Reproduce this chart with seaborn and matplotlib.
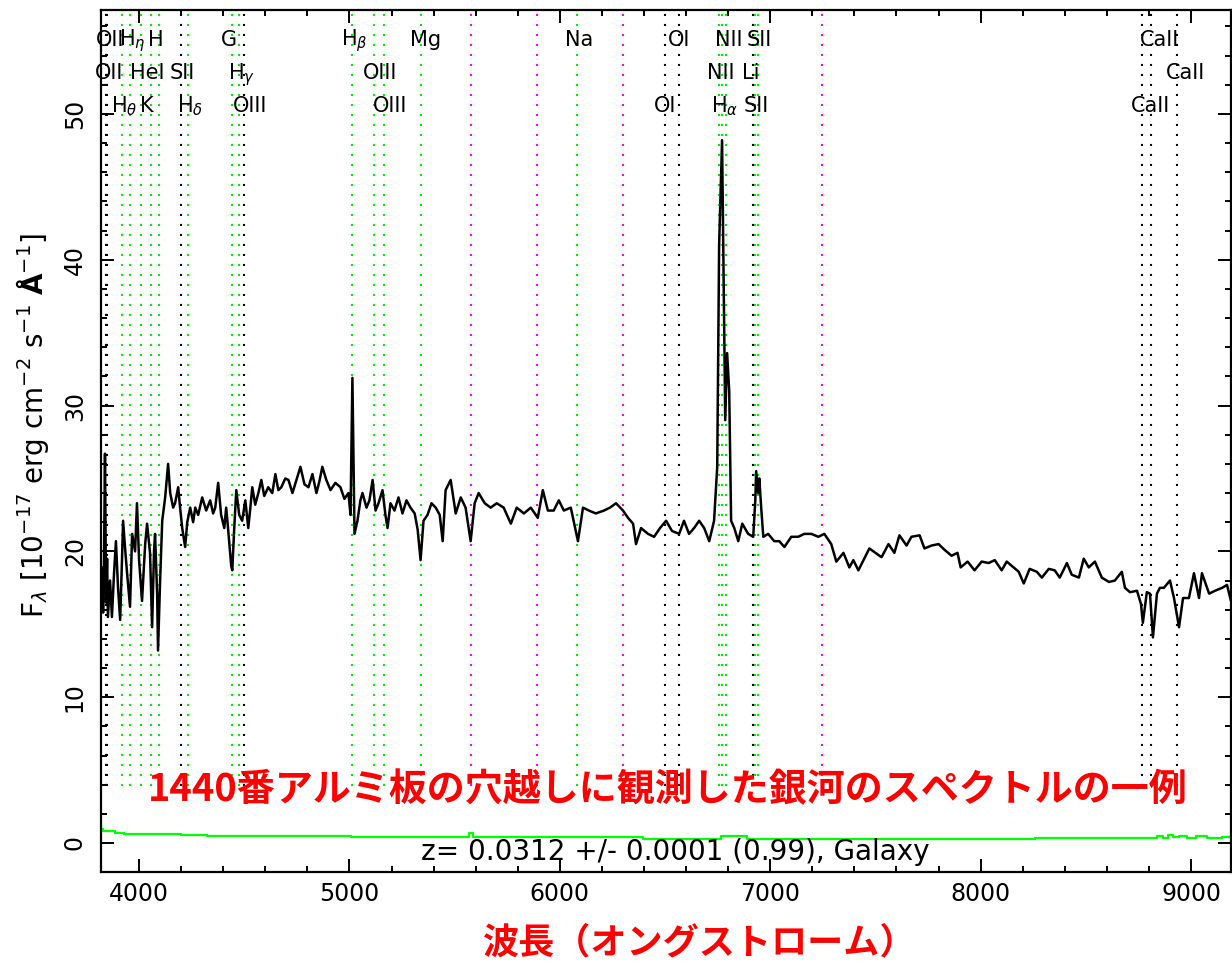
import numpy as np
import pandas as pd
import matplotlib
matplotlib.use("Agg")
import matplotlib.pyplot as plt
from matplotlib.ticker import MultipleLocator, FixedLocator
import seaborn as sns

# ---------------- data ----------------
wavelength = [3818, 3824, 3829, 3833, 3838, 3843, 3848, 3852, 3862, 3871, 3881, 3890, 3900, 3910,
              3919, 3924, 3933, 3943, 3957, 3967, 3981, 3990, 4000, 4014, 4029, 4038, 4052, 4062,
              4071, 4076, 4086, 4090, 4100, 4110, 4124, 4138, 4148, 4162, 4171, 4186, 4195, 4205,
              4219, 4229, 4243, 4257, 4267, 4281, 4300, 4319, 4338, 4352, 4362, 4376, 4390, 4405,
              4414, 4424, 4438, 4443, 4452, 4462, 4476, 4490, 4505, 4519, 4529, 4538, 4552, 4567,
              4581, 4595, 4614, 4633, 4648, 4662, 4676, 4695, 4710, 4729, 4748, 4767, 4786, 4805,
              4824, 4843, 4857, 4871, 4890, 4910, 4933, 4957, 4976, 4995, 5005, 5014, 5024, 5038,
              5052, 5062, 5081, 5095, 5110, 5124, 5138, 5157, 5171, 5181, 5195, 5214, 5233, 5252,
              5271, 5290, 5310, 5324, 5338, 5352, 5371, 5390, 5410, 5429, 5443, 5457, 5481, 5505,
              5529, 5552, 5576, 5595, 5614, 5643, 5671, 5700, 5733, 5767, 5795, 5829, 5862, 5895,
              5919, 5943, 5971, 5995, 6019, 6052, 6086, 6110, 6138, 6171, 6210, 6238, 6267, 6300,
              6324, 6348, 6362, 6386, 6419, 6448, 6476, 6505, 6533, 6567, 6590, 6614, 6638, 6662,
              6686, 6710, 6733, 6748, 6757, 6771, 6786, 6795, 6805, 6814, 6829, 6848, 6867, 6895,
              6919, 6929, 6933, 6943, 6948, 6957, 6967, 6990, 7019, 7043, 7067, 7100, 7133, 7162,
              7195, 7229, 7257, 7290, 7314, 7348, 7376, 7395, 7419, 7443, 7471, 7500, 7529, 7562,
              7590, 7614, 7648, 7671, 7710, 7733, 7767, 7800, 7829, 7862, 7890, 7905, 7938, 7971,
              8005, 8038, 8067, 8100, 8124, 8157, 8181, 8205, 8233, 8267, 8291, 8324, 8352, 8376,
              8410, 8433, 8467, 8490, 8514, 8543, 8576, 8610, 8638, 8671, 8686, 8710, 8743, 8762,
              8771, 8790, 8805, 8819, 8838, 8852, 8871, 8900, 8919, 8943, 8962, 8990, 9014, 9038,
              9052, 9086, 9114, 9148, 9171, 9190]
flux = [17.5, 18.9, 15.8, 19.0, 26.7, 16.5, 19.5, 15.5, 18.0, 15.5, 18.5, 20.7, 17.5, 15.3,
        19.5, 22.1, 20.3, 18.5, 16.2, 21.2, 20.0, 23.3, 19.4, 16.6, 20.5, 21.9, 19.9, 14.8,
        20.0, 21.2, 17.0, 13.2, 18.0, 22.1, 23.7, 26.0, 24.0, 23.0, 23.3, 24.4, 23.0, 21.6,
        20.3, 22.0, 23.0, 22.0, 23.0, 22.5, 23.7, 22.8, 23.5, 22.6, 23.0, 24.7, 22.5, 21.6,
        23.0, 21.4, 19.0, 18.7, 21.5, 24.2, 22.5, 22.1, 23.5, 21.6, 23.0, 24.4, 23.2, 24.0,
        24.9, 23.8, 24.4, 24.0, 25.3, 24.2, 24.4, 25.0, 24.9, 24.0, 24.9, 25.8, 24.6, 24.4,
        25.3, 24.0, 24.8, 25.8, 24.9, 24.2, 24.7, 24.4, 23.6, 24.0, 22.5, 31.9, 21.2, 22.1,
        23.5, 24.0, 23.0, 23.5, 24.9, 22.8, 23.3, 24.2, 22.5, 21.6, 23.3, 22.8, 23.7, 22.6,
        23.5, 23.0, 22.6, 21.5, 19.4, 22.1, 22.5, 23.3, 23.0, 22.5, 20.7, 24.2, 24.9, 22.6,
        23.7, 23.0, 20.7, 23.3, 24.0, 23.3, 23.0, 23.3, 23.0, 21.9, 23.0, 22.6, 23.0, 22.3,
        24.2, 22.8, 22.8, 23.5, 22.8, 23.0, 20.7, 23.0, 22.8, 22.6, 22.8, 23.0, 23.3, 22.8,
        22.3, 21.9, 20.5, 21.6, 21.2, 21.0, 21.6, 22.1, 21.4, 21.2, 22.1, 21.2, 21.6, 22.1,
        21.6, 20.7, 22.1, 25.8, 41.0, 48.2, 29.0, 33.6, 31.0, 22.1, 21.6, 20.7, 21.9, 21.2,
        21.0, 23.5, 25.5, 24.0, 25.0, 23.0, 21.0, 21.2, 20.7, 20.7, 20.3, 21.0, 21.0, 21.2,
        21.2, 21.0, 21.2, 20.5, 19.3, 19.9, 18.9, 19.4, 18.7, 19.4, 20.2, 19.9, 19.6, 20.5,
        19.9, 21.1, 20.4, 21.0, 21.1, 20.2, 20.4, 20.5, 20.1, 19.7, 19.9, 18.9, 19.3, 18.7,
        19.3, 19.2, 19.4, 18.7, 19.3, 18.9, 18.6, 17.8, 18.8, 18.6, 18.2, 18.8, 18.7, 18.2,
        19.2, 18.4, 18.2, 19.5, 18.9, 19.3, 18.2, 17.9, 18.0, 18.6, 17.5, 17.2, 17.3, 16.4,
        15.1, 17.2, 17.1, 14.1, 17.1, 17.5, 17.5, 18.0, 16.8, 14.8, 16.8, 16.8, 18.5, 16.8,
        18.5, 17.1, 17.3, 17.5, 17.7, 16.6]

err_wavelength = [3818, 3840, 3870, 3900, 3960, 4040, 4150, 4250, 4400, 4600, 4800, 5000, 5010,
                  5300, 5560, 5577, 5595, 5800, 6000, 6290, 6500, 6760, 6775, 7000, 7300, 7600,
                  7900, 8200, 8320, 8500, 8700, 8830, 8850, 8880, 8900, 8930, 8960, 9000, 9050,
                  9100, 9190]
err_flux = [0.95, 0.85, 0.8, 0.7, 0.65, 0.6, 0.6, 0.55, 0.5, 0.5, 0.48, 0.48, 0.4,
            0.4, 0.4, 0.7, 0.4, 0.4, 0.4, 0.38, 0.3, 0.3, 0.45, 0.28, 0.27, 0.27,
            0.27, 0.27, 0.33, 0.33, 0.34, 0.36, 0.5, 0.35, 0.55, 0.4, 0.5, 0.35, 0.45,
            0.35, 0.38]

redshift = 0.0312
line_names = ["OII", "OII", "H$_\\theta$", "H$_\\eta$", "HeI", "K", "H", "SII", "H$_\\delta$",
              "G", "H$_\\gamma$", "OIII", "H$_\\beta$", "OIII", "OIII", "Mg", "Na", "OI", "OI",
              "NII", "H$_\\alpha$", "NII", "Li", "SII", "SII", "CaII", "CaII", "CaII"]
line_rest = [3727.09, 3729.88, 3798.98, 3836.47, 3889.0, 3934.78, 3969.59, 4072.3, 4102.89,
             4305.61, 4341.68, 4364.44, 4862.68, 4960.30, 5008.24, 5176.7, 5895.6, 6302.05,
             6365.54, 6549.86, 6564.61, 6585.27, 6707.89, 6718.29, 6732.67, 8500.36, 8544.44,
             8664.52]
line_kind = ["k", "k", "g", "g", "g", "g", "g", "k", "g",
             "g", "g", "k", "g", "g", "g", "g", "g", "k",
             "k", "g", "g", "g", "k", "g", "g", "k", "k", "k"]
line_row = [2, 1, 3, 1, 2, 3, 1, 2, 3,
            1, 2, 3, 1, 2, 3, 1, 1, 3,
            1, 2, 3, 1, 2, 3, 1, 3, 1, 2]
sky_lines = [5577.3, 5893.0, 6300.3, 7246.0]

xticks = [4000, 5000, 6000, 7000, 8000, 9000]
yticks = [0, 10, 20, 30, 40, 50]
z_text = "z= 0.0312 +/- 0.0001 (0.99), Galaxy"
caption = "1440番アルミ板の穴越しに観測した銀河のスペクトルの一例"
xlabel_text = "波長（オングストローム）"
ylabel_text = r"F$_\lambda$ [10$^{-17}$ erg cm$^{-2}$ s$^{-1}$ $\mathbf{\AA}^{-1}$]"

# ---------------- style ----------------
sns.set_theme(style="ticks")
plt.rcParams["font.family"] = ["DejaVu Sans", "Noto Sans CJK JP"]
plt.rcParams["mathtext.fontset"] = "dejavusans"
for key in ["text.color", "axes.labelcolor", "xtick.color", "ytick.color",
            "xtick.labelcolor", "ytick.labelcolor"]:
    plt.rcParams[key] = "black"

fig = plt.figure(figsize=(12.32, 9.63), dpi=100)
ax = fig.add_axes([100.7 / 1232, 91 / 963, (1231 - 100.7) / 1232, (872 - 10) / 963])

ax.set_xlim(3817.6, 9190)
ax.set_ylim(-1.99, 57.13)

spec = pd.DataFrame({"wavelength": wavelength, "flux": flux})
err = pd.DataFrame({"wavelength": err_wavelength, "flux": err_flux})

# marker lines
obs = np.array(line_rest) * (1 + redshift)
dot = (0, (1, 3.8))
for lam, kind in zip(obs, line_kind):
    ax.vlines(lam, 3.9, 57.13, colors="#00ee00" if kind == "g" else "black",
              linestyles=dot, linewidth=1.5, zorder=1)
for lam in sky_lines:
    ax.vlines(lam, 3.9, 57.13, colors="#ff00ff", linestyles=dot, linewidth=1.5, zorder=1)

sns.lineplot(data=err, x="wavelength", y="flux", ax=ax, color="#00ff00", linewidth=1.6,
             drawstyle="steps-mid", estimator=None, sort=False, zorder=2)
sns.lineplot(data=spec, x="wavelength", y="flux", ax=ax, color="black", linewidth=1.8,
             estimator=None, sort=False, zorder=3)

# line labels
row_y = {1: 0.9588, 2: 0.920, 3: 0.8817}
for name, lam, row in zip(line_names, obs, line_row):
    ax.annotate(name, xy=(lam, row_y[row]), xycoords=("data", "axes fraction"),
                xytext=(-8, 0), textcoords="offset points", ha="left", va="baseline",
                fontsize=15, color="black", family="DejaVu Sans", zorder=4)

ax.text(0.508, 0.023, z_text, transform=ax.transAxes, ha="center", va="center",
        fontsize=20, color="black")

# axes styling
ax.xaxis.set_major_locator(FixedLocator(xticks))
ax.yaxis.set_major_locator(FixedLocator(yticks))
ax.xaxis.set_minor_locator(MultipleLocator(200))
ax.yaxis.set_minor_locator(MultipleLocator(2))
ax.tick_params(which="both", direction="in", top=True, right=True, width=1.4, color="black")
ax.tick_params(which="major", length=9.5)
ax.tick_params(which="minor", length=4.5)
ax.tick_params(axis="x", which="major", labelsize=17, pad=7, labelcolor="black")
ax.tick_params(axis="y", which="major", labelsize=17, pad=10, labelrotation=90,
               labelcolor="black")
for lab in ax.get_yticklabels():
    lab.set_va("center")
for s in ax.spines.values():
    s.set_linewidth(1.6)
    s.set_color("black")
ax.set_xlabel("")
ax.set_ylabel(ylabel_text, fontsize=20, labelpad=10, color="black")
ax.yaxis.set_label_coords(-0.044, 0.518)

# red Japanese texts
fig.text(668 / 1232, 1 - 790 / 963, caption, ha="center", va="center", fontsize=27.4,
         fontweight="bold", color="#ff0000", family=["Noto Sans CJK JP", "DejaVu Sans"])
fig.text(700 / 1232, 1 - 943 / 963, xlabel_text, ha="center", va="center", fontsize=26,
         fontweight="bold", color="#ff0000", family=["Noto Sans CJK JP", "DejaVu Sans"])

fig.savefig("out.png", dpi=100, facecolor="white")
